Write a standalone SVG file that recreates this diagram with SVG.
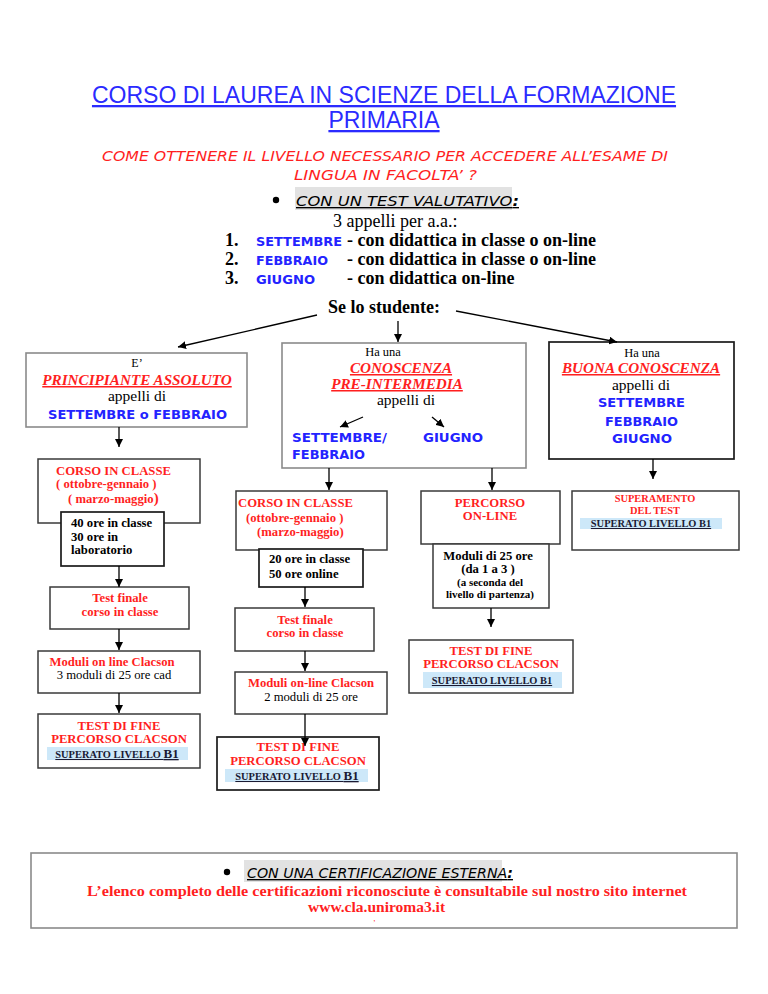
<svg xmlns="http://www.w3.org/2000/svg" width="768" height="994" viewBox="0 0 768 994">
<defs>
<marker id="ah" markerWidth="8" markerHeight="8" refX="8" refY="4" orient="auto" markerUnits="userSpaceOnUse"><path d="M0,0 L8,4 L0,8 z" fill="#000"/></marker>
</defs>
<style>
.t{font-family:"Liberation Serif","Times New Roman",serif;fill:#000}
.b{font-weight:bold}
.r{fill:#ff1f1f}
.m{text-anchor:middle}
.f13{font-size:12.7px}
.bi{font-family:"Liberation Serif","Times New Roman",serif;font-weight:bold;font-style:italic;fill:#ff1f1f;text-decoration:underline;font-size:15.2px}
.cb{font-family:"DejaVu Sans",sans-serif;font-weight:bold;fill:#2323ff;font-size:13px}
.ci{font-family:"DejaVu Sans",sans-serif;font-style:italic;font-size:13.5px}
.box{fill:#fff;stroke:#3a3a3a;stroke-width:1.5}
.gbox{fill:#fff;stroke:#8a8a8a;stroke-width:1.6}
.dbox{fill:#fff;stroke:#1a1a1a;stroke-width:1.7}
.conn line{stroke:#000;stroke-width:1.3;marker-end:url(#ah)}
.hl{fill:#cde8f9}
.gh{fill:#e2e2e2}
.sup{font-family:"Liberation Serif","Times New Roman",serif;font-weight:bold;font-size:10.4px;fill:#1a1a33;text-decoration:underline}
</style>
<rect width="768" height="994" fill="#fff"/>

<g id="header">
<text x="384" y="103" class="m" font-family="Liberation Sans, Arial, sans-serif" font-size="23" fill="#2b2bff" text-decoration="underline">CORSO DI LAUREA IN SCIENZE DELLA FORMAZIONE</text>
<text x="384" y="128" class="m" font-family="Liberation Sans, Arial, sans-serif" font-size="23" fill="#2b2bff" text-decoration="underline">PRIMARIA</text>
<text x="102" y="161" class="ci" fill="#ff1f1f" textLength="566" lengthAdjust="spacingAndGlyphs">COME OTTENERE IL LIVELLO NECESSARIO PER ACCEDERE ALL’ESAME DI</text>
<text x="294" y="180" class="ci" fill="#ff1f1f" textLength="183" lengthAdjust="spacingAndGlyphs">LINGUA IN FACOLTA’ ?</text>
<circle cx="276" cy="200" r="3.2" fill="#000"/>
<rect x="295" y="187" width="217" height="23" class="gh"/>
<text x="296" y="206" class="ci" font-size="14" fill="#000" text-decoration="underline" textLength="223" lengthAdjust="spacingAndGlyphs">CON UN TEST VALUTATIVO<tspan font-weight="bold">:</tspan></text>
<text x="333" y="227" class="t" font-size="18">3 appelli per a.a.:</text>
<text x="225" y="246" class="t b" font-size="18">1.</text>
<text x="256" y="246" class="cb" font-size="12.5" textLength="86" lengthAdjust="spacingAndGlyphs">SETTEMBRE</text>
<text x="347" y="246" class="t b" font-size="18">- con didattica in classe o on-line</text>
<text x="225" y="265" class="t b" font-size="18">2.</text>
<text x="256" y="265" class="cb" font-size="12.5" textLength="72" lengthAdjust="spacingAndGlyphs">FEBBRAIO</text>
<text x="347" y="265" class="t b" font-size="18">- con didattica in classe o on-line</text>
<text x="225" y="284" class="t b" font-size="18">3.</text>
<text x="256" y="284" class="cb" font-size="12.5" textLength="59" lengthAdjust="spacingAndGlyphs">GIUGNO</text>
<text x="347" y="284" class="t b" font-size="18">- con didattica on-line</text>
<text x="384" y="313" class="t b m" font-size="18">Se lo studente:</text>
</g>

<g id="principiante">
<rect x="26" y="353" width="221" height="74" class="gbox"/>
<text x="137" y="367" class="t m" font-size="12">E’</text>
<text x="137" y="385" class="bi m">PRINCIPIANTE ASSOLUTO</text>
<text x="137" y="401" class="t m" font-size="15.5">appelli di</text>
<text x="48" y="419" class="cb" font-size="13.5" textLength="179" lengthAdjust="spacingAndGlyphs">SETTEMBRE o FEBBRAIO</text>
</g>

<g id="preintermedia">
<rect x="282" y="343" width="244" height="125" class="gbox"/>
<text x="383" y="356" class="t m" font-size="12.5">Ha una</text>
<text x="401" y="373" class="bi m">CONOSCENZA</text>
<text x="397" y="389" class="bi m">PRE-INTERMEDIA</text>
<text x="406" y="405" class="t m" font-size="15.5">appelli di</text>
<text x="292" y="442" class="cb" font-size="13.5" textLength="95" lengthAdjust="spacingAndGlyphs">SETTEMBRE/</text>
<text x="292" y="459" class="cb" font-size="13.5" textLength="73" lengthAdjust="spacingAndGlyphs">FEBBRAIO</text>
<text x="423" y="442" class="cb" font-size="13.5" textLength="60" lengthAdjust="spacingAndGlyphs">GIUGNO</text>
</g>

<g id="buona">
<rect x="549" y="342" width="185" height="117" class="dbox"/>
<text x="642" y="357" class="t m" font-size="12.5">Ha una</text>
<text x="641" y="373" class="bi m">BUONA CONOSCENZA</text>
<text x="641" y="390" class="t m" font-size="15.5">appelli di</text>
<text x="598" y="407" class="cb" font-size="13.5" textLength="87" lengthAdjust="spacingAndGlyphs">SETTEMBRE</text>
<text x="605" y="426" class="cb" font-size="13.5" textLength="73" lengthAdjust="spacingAndGlyphs">FEBBRAIO</text>
<text x="612" y="443" class="cb" font-size="13.5" textLength="60" lengthAdjust="spacingAndGlyphs">GIUGNO</text>
</g>

<g id="corso-classe-1">
<rect x="38" y="459" width="162" height="64" class="box"/>
<text x="56" y="475" class="t b r f13">CORSO IN CLASSE</text>
<text x="56" y="488" class="t b r f13">( ottobre-gennaio )</text>
<text x="68" y="503" class="t b r f13">( marzo-maggio<tspan font-size="15">)</tspan></text>
</g>
<g id="ore-1">
<rect x="61" y="512" width="103" height="54" class="dbox"/>
<text x="71" y="527" class="t b f13">40 ore in classe</text>
<text x="71" y="541" class="t b f13">30 ore in</text>
<text x="71" y="554" class="t b f13">laboratorio</text>
</g>
<g id="test-finale-1">
<rect x="50" y="587" width="139" height="42" class="box"/>
<text x="120" y="602" class="t b r m f13">Test finale</text>
<text x="120" y="616" class="t b r m f13">corso in classe</text>
</g>
<g id="moduli-1">
<rect x="38" y="651" width="162" height="42" class="box"/>
<text x="112" y="666" class="t b r m f13">Moduli on line Clacson</text>
<text x="114" y="679" class="t m f13">3 moduli di 25 ore cad</text>
</g>
<g id="test-fine-1">
<rect x="38" y="714" width="162" height="54" class="box"/>
<text x="119" y="730" class="t b r m f13">TEST DI FINE</text>
<text x="119" y="743" class="t b r m f13">PERCORSO CLACSON</text>
<rect x="47" y="747" width="141" height="13" class="hl"/>
<text x="117" y="758" class="sup m">SUPERATO LIVELLO <tspan font-size="13">B1</tspan></text>
</g>

<g id="corso-classe-2">
<rect x="236" y="491" width="151" height="59" class="box"/>
<text x="238" y="507" class="t b r f13">CORSO IN CLASSE</text>
<text x="246" y="522" class="t b r f13">(ottobre-gennaio )</text>
<text x="257" y="536" class="t b r f13">(marzo-maggio)</text>
</g>
<g id="ore-2">
<rect x="259" y="549" width="104" height="38" class="dbox"/>
<text x="269" y="563" class="t b f13">20 ore in classe</text>
<text x="269" y="578" class="t b f13">50 ore online</text>
</g>
<g id="test-finale-2">
<rect x="235" y="608" width="139" height="43" class="box"/>
<text x="305" y="624" class="t b r m f13">Test finale</text>
<text x="305" y="637" class="t b r m f13">corso in classe</text>
</g>
<g id="moduli-2">
<rect x="235" y="672" width="152" height="42" class="box"/>
<text x="311" y="687" class="t b r m f13">Moduli on-line Clacson</text>
<text x="311" y="701" class="t m f13">2 moduli di 25 ore</text>
</g>
<g id="test-fine-2">
<rect x="217" y="737" width="162" height="53" class="dbox"/>
<text x="298" y="751" class="t b r m f13">TEST DI FINE</text>
<text x="298" y="765" class="t b r m f13">PERCORSO CLACSON</text>
<rect x="225" y="769" width="143" height="13" class="hl"/>
<text x="297" y="780" class="sup m">SUPERATO  LIVELLO <tspan font-size="13">B1</tspan></text>
</g>

<g id="percorso-online">
<rect x="421" y="491" width="139" height="53" class="box"/>
<text x="490" y="507" class="t b r m f13">PERCORSO</text>
<text x="490" y="520" class="t b r m f13">ON-LINE</text>
</g>
<g id="moduli-online">
<rect x="433" y="544" width="116" height="64" class="box"/>
<text x="488" y="560" class="t b m f13">Moduli di 25 ore</text>
<text x="488" y="573" class="t b m f13">(da 1 a 3 )</text>
<text x="490" y="586" class="t b m" font-size="11">(a seconda del</text>
<text x="490" y="598" class="t b m" font-size="11">livello di partenza)</text>
</g>
<g id="test-fine-3">
<rect x="409" y="640" width="164" height="53" class="box"/>
<text x="491" y="655" class="t b r m f13">TEST DI FINE</text>
<text x="491" y="668" class="t b r m f13">PERCORSO CLACSON</text>
<rect x="423" y="672" width="139" height="16" class="hl"/>
<text x="492" y="684" class="sup m" font-size="11">SUPERATO  LIVELLO B1</text>
</g>

<g id="superamento">
<rect x="572" y="491" width="167" height="59" class="box"/>
<text x="655" y="502" class="t b r m" font-size="10.4">SUPERAMENTO</text>
<text x="655" y="514" class="t b r m" font-size="10.4">DEL TEST</text>
<rect x="580" y="518" width="142" height="11" class="hl"/>
<text x="651" y="527" class="sup m">SUPERATO  LIVELLO B1</text>
</g>

<g id="certificazione">
<rect x="31" y="853" width="706" height="75" class="gbox"/>
<circle cx="227" cy="872" r="3.2" fill="#000"/>
<rect x="244" y="860" width="258" height="22" class="gh"/>
<text x="247" y="878" class="ci" font-size="14" fill="#000" text-decoration="underline" textLength="266" lengthAdjust="spacingAndGlyphs">CON UNA CERTIFICAZIONE ESTERNA<tspan font-weight="bold">:</tspan></text>
<text x="387" y="896" class="t b r m" font-size="15.5" textLength="600" lengthAdjust="spacingAndGlyphs">L’elenco completo delle certificazioni riconosciute è consultabile sul nostro sito internet</text>
<text x="308" y="912" class="t b r" font-size="15.5">www.cla.uniroma3.it</text>
<text x="373" y="926" class="t r" font-size="8">’</text>
</g>

<g id="connectors" class="conn">
<line x1="317" y1="315" x2="178" y2="347"/>
<line x1="398" y1="321" x2="398" y2="342"/>
<line x1="456" y1="311" x2="617" y2="342"/>
<line x1="363" y1="417" x2="340" y2="427"/>
<line x1="432" y1="417" x2="444" y2="427"/>
<line x1="119" y1="427" x2="119" y2="447"/>
<line x1="119" y1="566" x2="119" y2="587"/>
<line x1="119" y1="629" x2="119" y2="650"/>
<line x1="119" y1="693" x2="119" y2="713"/>
<line x1="329" y1="468" x2="329" y2="490"/>
<line x1="305" y1="587" x2="305" y2="607"/>
<line x1="305" y1="651" x2="305" y2="671"/>
<line x1="305" y1="714" x2="305" y2="746"/>
<line x1="492" y1="468" x2="492" y2="490"/>
<line x1="491" y1="608" x2="491" y2="627"/>
<line x1="653" y1="459" x2="653" y2="479"/>
</g>
</svg>
